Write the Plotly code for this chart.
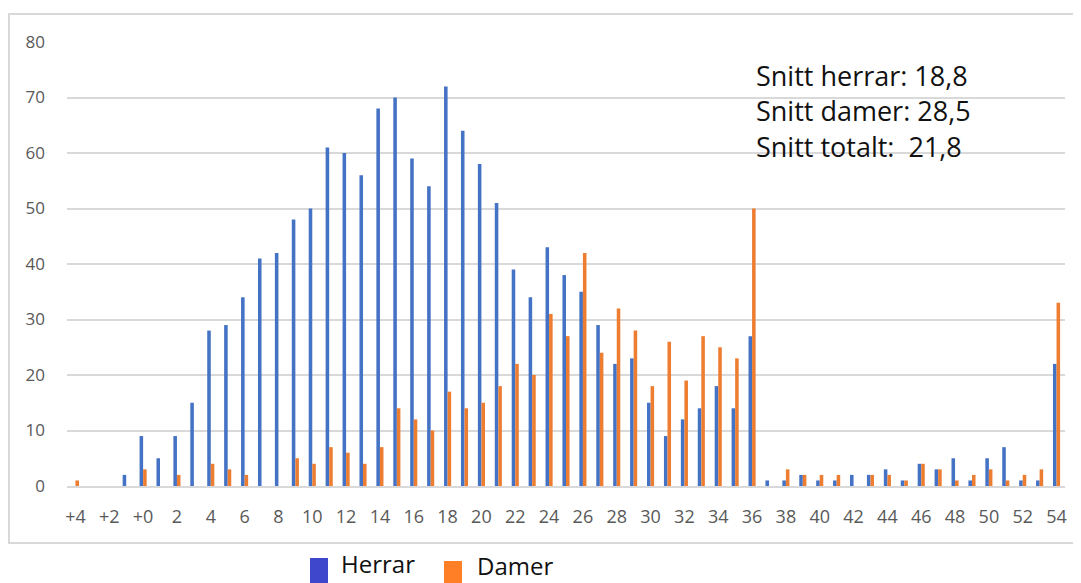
import plotly.graph_objects as go

categories = ["+4", "+3", "+2", "+1", "+0", "1", "2", "3", "4", "5", "6", "7", "8", "9",
              "10", "11", "12", "13", "14", "15", "16", "17", "18", "19", "20", "21", "22",
              "23", "24", "25", "26", "27", "28", "29", "30", "31", "32", "33", "34", "35",
              "36", "37", "38", "39", "40", "41", "42", "43", "44", "45", "46", "47", "48",
              "49", "50", "51", "52", "53", "54"]

herrar = [0, 0, 0, 2, 9, 5, 9, 15, 28, 29, 34, 41, 42, 48, 50, 61, 60, 56, 68, 70,
          59, 54, 72, 64, 58, 51, 39, 34, 43, 38, 35, 29, 22, 23, 15, 9, 12, 14, 18, 14,
          27, 1, 1, 2, 1, 1, 2, 2, 3, 1, 4, 3, 5, 1, 5, 7, 1, 1, 22]

damer = [1, 0, 0, 0, 3, 0, 2, 0, 4, 3, 2, 0, 0, 5, 4, 7, 6, 4, 7, 14,
         12, 10, 17, 14, 15, 18, 22, 20, 31, 27, 42, 24, 32, 28, 18, 26, 19, 27, 25, 23,
         50, 0, 3, 2, 2, 2, 0, 2, 2, 1, 4, 3, 1, 2, 3, 1, 2, 3, 33]

tick_labels = categories[::2]

snitt_lines = ["Snitt herrar: 18,8", "Snitt damer: 28,5", "Snitt totalt:\u00a0 21,8"]
legend_names = ["Herrar", "Damer"]

# page is rendered with an 8px body margin; work in page pixels and convert
OFF = 8
W, H = 1081 - OFF, 583 - OFF
PL, PR, PT, PB = 67, 1065, 42, 486          # plot area in page pixels
L, T = PL - OFF, PT - OFF
R, B = W - (PR - OFF), H - (PB - OFF)
pw, ph = PR - PL, PB - PT

def px(x):
    return (x - PL) / pw

def py(y):
    return (PB - y) / ph

fig = go.Figure()
fig.add_bar(x=categories, y=herrar, name="Herrar", marker=dict(color="#4472C4", line_width=0))
fig.add_bar(x=categories, y=damer, name="Damer", marker=dict(color="#ED7D31", line_width=0))

font_fam = "'Open Sans', 'Noto Sans', sans-serif"

fig.update_layout(
    width=W, height=H,
    margin=dict(l=L, r=R, t=T, b=B, pad=0),
    paper_bgcolor="white", plot_bgcolor="white",
    barmode="group", bargap=0.58, bargroupgap=0,
    showlegend=False,
    font=dict(family=font_fam),
    xaxis=dict(type="category", tickmode="array", tickvals=tick_labels, ticktext=tick_labels,
               showgrid=False, showline=True, linecolor="#d9d9d9", linewidth=1.5,
               ticks="", tickfont=dict(size=18, color="#595959"), ticklabelstandoff=14,
               fixedrange=True),
    yaxis=dict(range=[0, 80], dtick=10, showgrid=True, gridcolor="#d9d9d9", gridwidth=1.5,
               zeroline=False, showline=False, ticks="",
               tickfont=dict(size=17, color="#595959"), ticklabelstandoff=21,
               fixedrange=True),
)

# chart border
fig.add_shape(type="rect", xref="paper", yref="paper",
              x0=px(9), x1=px(1095), y0=py(543), y1=py(14),
              line=dict(color="#d9d9d9", width=2), fillcolor="rgba(0,0,0,0)", layer="below")

# averages text
for txt, yc in zip(snitt_lines, [75, 111, 146]):
    fig.add_annotation(text=txt, xref="paper", yref="paper", x=px(754), y=py(yc),
                       xanchor="left", yanchor="middle", showarrow=False,
                       font=dict(size=27, color="#111111", family=font_fam))

# legend below chart
leg_colors = ["#3F48CC", "#FF7F27"]
leg_sq_x = [310, 444]
leg_sq_y = [558, 561]
leg_txt_x = [339, 475]
leg_txt_y = [563, 565]
for name, col, sx, sy, tx, ty in zip(legend_names, leg_colors, leg_sq_x, leg_sq_y, leg_txt_x, leg_txt_y):
    fig.add_shape(type="rect", xref="paper", yref="paper",
                  x0=px(sx), x1=px(sx + 18), y0=py(sy + 40), y1=py(sy),
                  line=dict(width=0), fillcolor=col)
    fig.add_annotation(text=name, xref="paper", yref="paper", x=px(tx), y=py(ty),
                       xanchor="left", yanchor="middle", showarrow=False,
                       font=dict(size=24, color="#111111", family=font_fam))

fig.write_html("out.html")
